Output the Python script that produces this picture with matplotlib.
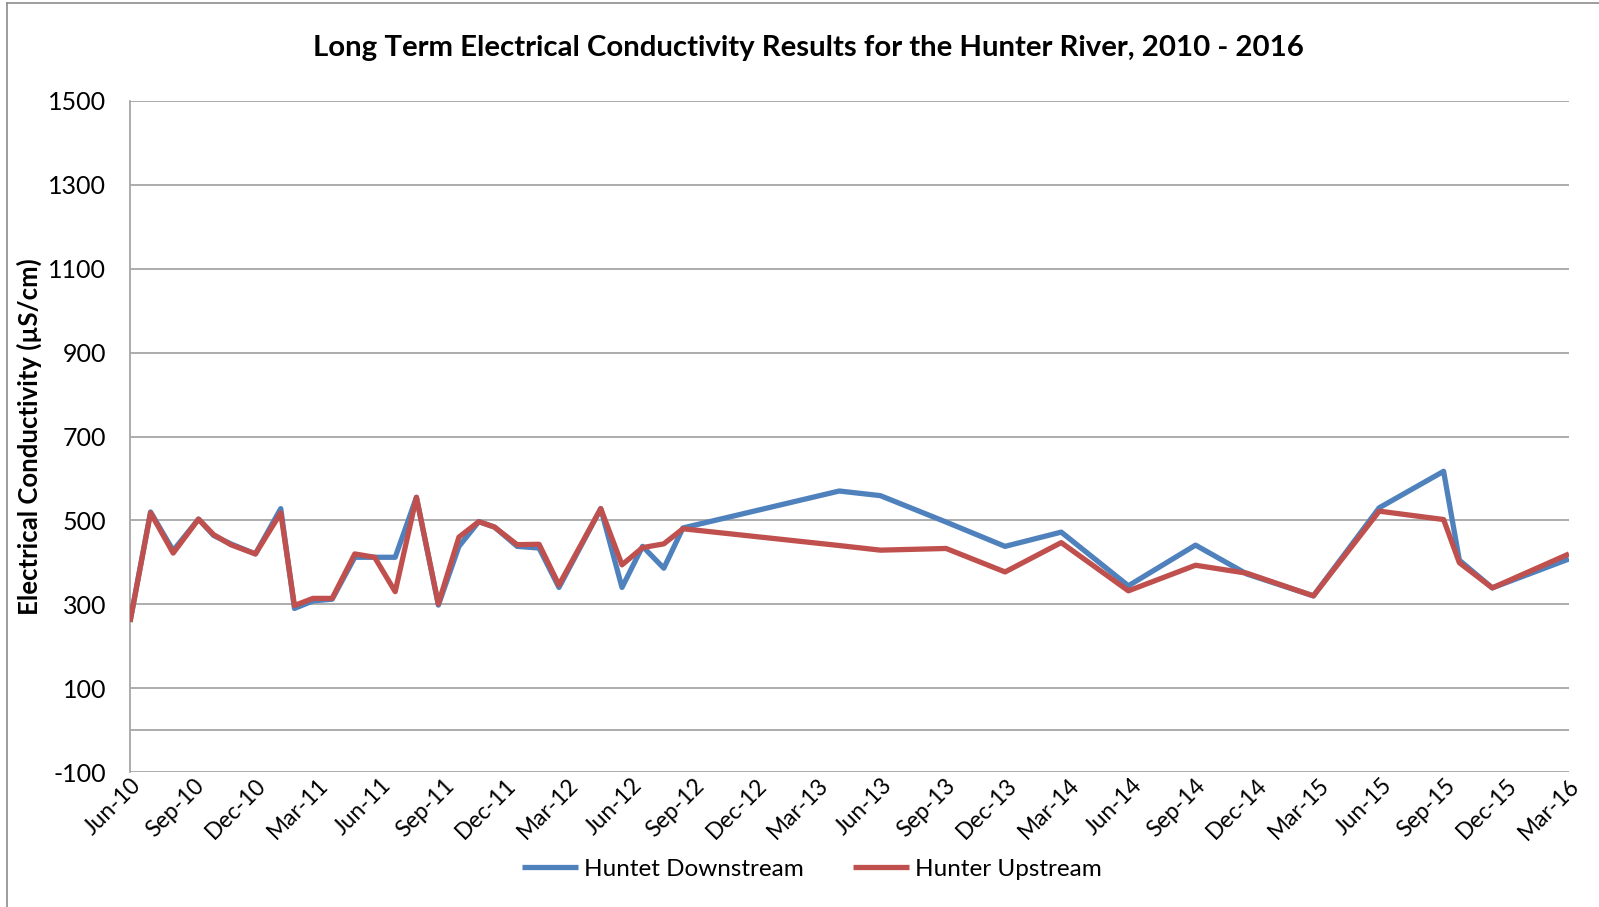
import matplotlib
matplotlib.use("Agg")
import matplotlib.pyplot as plt
import matplotlib.dates as mdates
import matplotlib.transforms as mtransforms
import pandas as pd
import numpy as np

plt.rcParams['font.family'] = ['Lato', 'DejaVu Sans']

# ---- data ----
dates = ["2010-06-01", "2010-07-01", "2010-08-03", "2010-09-09", "2010-10-01",
         "2010-10-26", "2010-12-01", "2011-01-07", "2011-01-27", "2011-02-23",
         "2011-03-23", "2011-04-25", "2011-05-24", "2011-06-23", "2011-07-24",
         "2011-08-25", "2011-09-24", "2011-10-23", "2011-11-15", "2011-12-18",
         "2012-01-19", "2012-02-17", "2012-04-18", "2012-05-19", "2012-06-18",
         "2012-07-19", "2012-08-16", "2013-04-01", "2013-05-31", "2013-09-04",
         "2013-11-29", "2014-02-19", "2014-05-28", "2014-09-03", "2014-11-17",
         "2015-02-22", "2015-05-29", "2015-08-31", "2015-09-23", "2015-11-10",
         "2016-03-01"]
downstream = [258, 520, 428, 503, 464, 444, 420, 528, 290, 308,
              312, 412, 412, 412, 555, 298, 438, 497, 484, 438,
              434, 340, 528, 340, 438, 386, 482, 570, 559, 496,
              438, 472, 344, 441, 372, 320, 530, 617, 405, 339,
              408]
upstream = [258, 518, 422, 503, 466, 442, 420, 518, 297, 314,
            314, 420, 412, 330, 555, 301, 460, 497, 484, 442,
            443, 346, 528, 394, 435, 444, 480, 440, 429, 433,
            377, 447, 332, 393, 374, 320, 522, 502, 399, 339,
            420]
series_names = ["Huntet Downstream", "Hunter Upstream"]
title = "Long Term Electrical Conductivity Results for the Hunter River, 2010 - 2016"
ylabel = "Electrical Conductivity (\u00b5S/cm)"
y_ticks = list(range(-100, 1501, 200))

x = pd.to_datetime(dates)

W, H = 1599, 907
fig = plt.figure(figsize=(W / 100, H / 100), dpi=100)
fig.patch.set_facecolor("white")

# outer chart border (left and top visible)
fig.add_artist(plt.Line2D([7 / W, 7 / W], [0, 1 - 3 / H], color="#8c8c8c", lw=1.2))
fig.add_artist(plt.Line2D([7 / W, 1], [1 - 3 / H, 1 - 3 / H], color="#8c8c8c", lw=1.2))

left, right, top, bottom = 130, 1569, 101, 772
ax = fig.add_axes([left / W, 1 - bottom / H, (right - left) / W, (bottom - top) / H])

grid_c = "#a6a6a6"
for yv in y_ticks:
    ax.axhline(yv, color=grid_c, lw=1.3, zorder=1)
ax.axhline(0, color=grid_c, lw=1.3, zorder=1)

blue = "#4f81bd"
red = "#c0504d"
ax.plot(x, downstream, color=blue, lw=3.8, label=series_names[0], zorder=3,
        solid_joinstyle="round", solid_capstyle="butt")
ax.plot(x, upstream, color=red, lw=3.8, label=series_names[1], zorder=4,
        solid_joinstyle="round", solid_capstyle="butt")

ax.set_ylim(-100, 1500)
ax.set_xlim(x[0], x[-1])
ax.set_yticks(y_ticks)
ax.set_yticklabels([str(v) for v in y_ticks], fontsize=18)

xt = pd.date_range("2010-06-01", "2016-03-01", freq="3MS")
ax.set_xticks(xt)
ax.xaxis.set_major_formatter(mdates.DateFormatter("%b-%y"))
offset = mtransforms.ScaledTranslation(-4 / 100, 1 / 100, fig.dpi_scale_trans)
for lab in ax.get_xticklabels():
    lab.set_rotation(45)
    lab.set_ha("right")
    lab.set_va("top")
    lab.set_rotation_mode("anchor")
    lab.set_fontsize(16.5)
    lab.set_transform(lab.get_transform() + offset)
ax.tick_params(axis="y", length=0, pad=17, colors="black")
ax.tick_params(axis="x", length=0, pad=2, colors="black")

for s in ["top", "right", "bottom"]:
    ax.spines[s].set_visible(False)
ax.spines["left"].set_color(grid_c)
ax.spines["left"].set_linewidth(1.3)

fig.text(808 / W, 1 - 48 / H, title, ha="center", va="center",
         fontsize=21.2, fontweight="bold")
fig.text(29 / W, 1 - 437 / H, ylabel, ha="center", va="center",
         rotation=90, fontsize=18.5, fontweight="bold")

fig.legend(loc="center", bbox_to_anchor=(812 / W, 1 - 869 / H), ncol=2,
           frameon=False, fontsize=17.5, handlelength=2.3, handletextpad=0.25,
           columnspacing=2.0)

fig.savefig("out.png", dpi=100, facecolor="white")
